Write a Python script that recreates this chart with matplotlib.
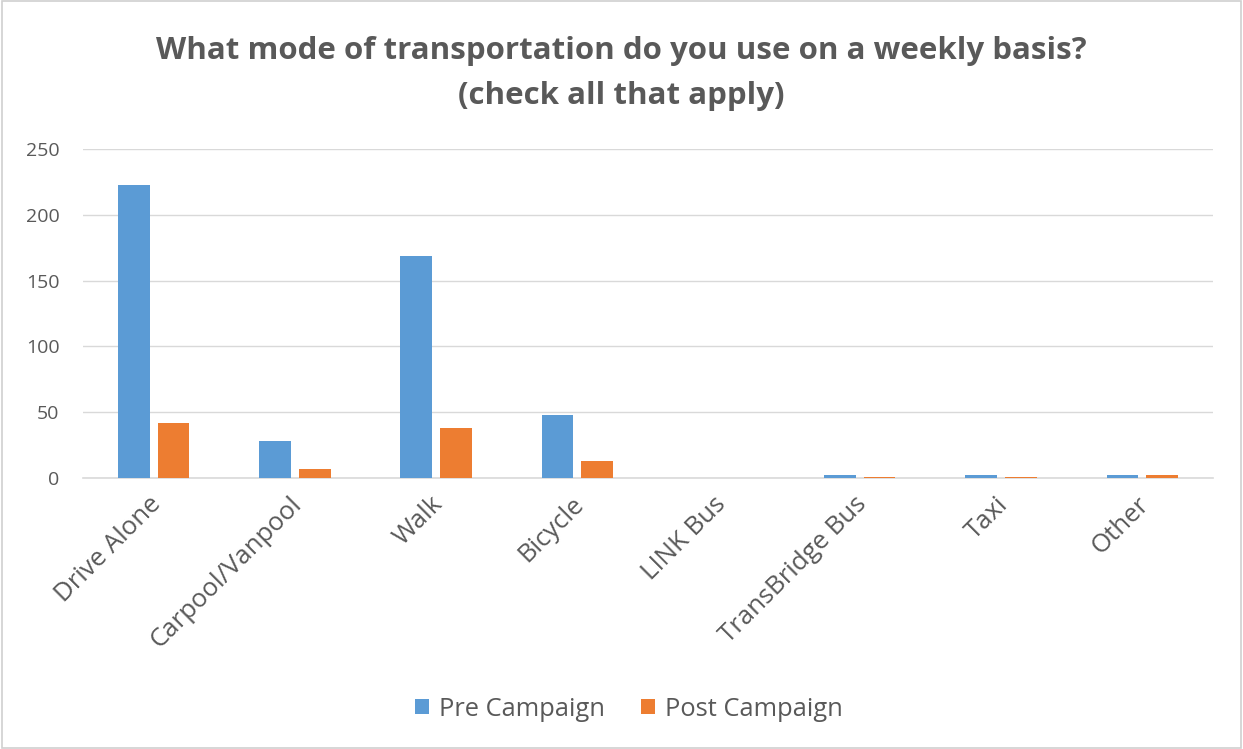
import matplotlib
matplotlib.use('Agg')
import matplotlib.pyplot as plt
import numpy as np
from matplotlib.patches import Rectangle

plt.rcParams['font.family'] = ['Open Sans', 'DejaVu Sans']

categories = ['Drive Alone', 'Carpool/Vanpool', 'Walk', 'Bicycle', 'LINK Bus',
              'TransBridge Bus', 'Taxi', 'Other']
pre_campaign = [223, 28, 169, 48, 0, 2, 2, 2]
post_campaign = [42, 7, 38, 13, 0, 1, 1, 2]
yticks = [0, 50, 100, 150, 200, 250]

text_color = '#595959'
grid_color = '#D9D9D9'

fig = plt.figure(figsize=(12.43, 7.49), dpi=100)
ax = fig.add_axes([0.0668, 0.3618, 0.909, 0.4393])

x = np.arange(len(categories))
w = 0.225
ax.bar(x - 0.14, pre_campaign, w, color='#5B9BD5', label='Pre Campaign', zorder=3)
ax.bar(x + 0.14, post_campaign, w, color='#ED7D31', label='Post Campaign', zorder=3)

ax.set_xlim(-0.5, len(categories) - 0.5)
ax.set_ylim(0, 250)
ax.set_yticks(yticks)
ax.yaxis.grid(True, color=grid_color, linewidth=1, zorder=0)
ax.set_axisbelow(True)
for side in ['top', 'right', 'left']:
    ax.spines[side].set_visible(False)
ax.spines['bottom'].set_color(grid_color)
ax.spines['bottom'].set_linewidth(1.2)
ax.tick_params(axis='y', length=0, pad=17, labelsize=14, labelcolor=text_color)
ax.tick_params(axis='x', length=0, pad=10, labelsize=18.5, labelcolor=text_color)
ax.set_xticks(x - 0.04)
ax.set_xticklabels(categories, rotation=45, ha='right', rotation_mode='anchor')

fig.text(0.5, 0.902, 'What mode of transportation do you use on a weekly basis?\n(check all that apply)',
         ha='center', va='center', fontsize=22.5, fontweight='bold', color=text_color,
         linespacing=1.62)

leg = fig.legend(loc='center', bbox_to_anchor=(0.506, 0.053), ncol=2, frameon=False,
                 fontsize=18.4, handlelength=0.55, handleheight=0.55, columnspacing=1.4,
                 handletextpad=0.4)
for t in leg.get_texts():
    t.set_color(text_color)

fig.patches.append(Rectangle((0.002, 0.002), 0.996, 0.996, transform=fig.transFigure,
                             fill=False, edgecolor='#D0D0D0', linewidth=1.2))

fig.savefig('out.png', dpi=100, facecolor='white')
